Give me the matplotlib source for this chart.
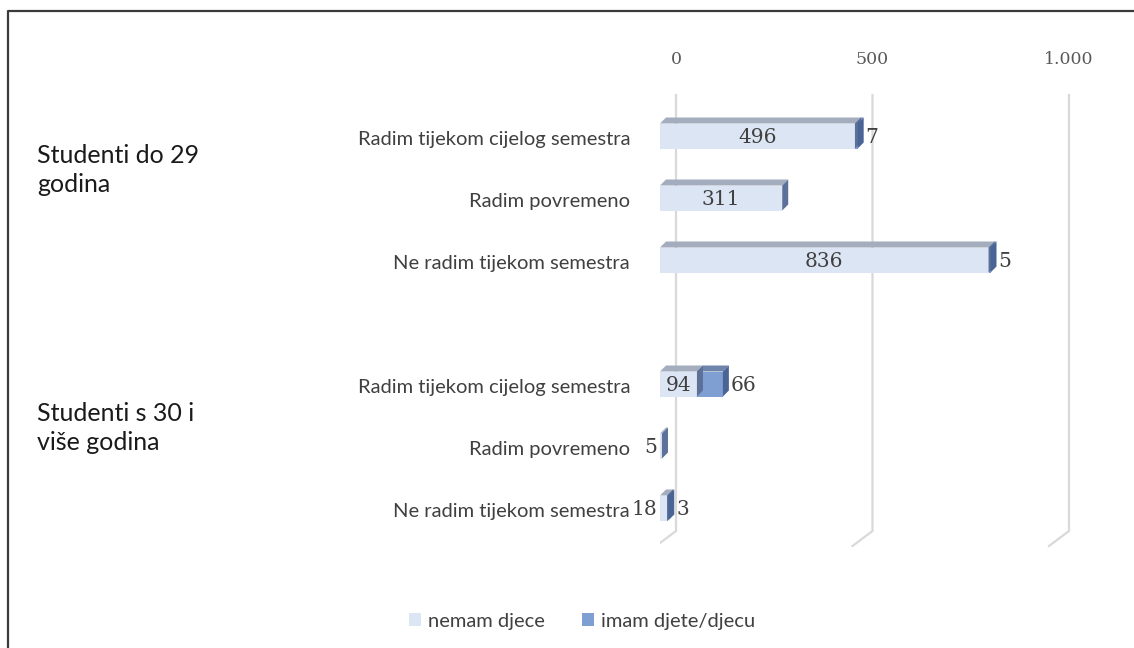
import matplotlib
matplotlib.use("Agg")
import matplotlib.pyplot as plt
from matplotlib.patches import Polygon, Rectangle, Patch
from matplotlib.lines import Line2D

# ---- data ----
groups = ["Studenti do 29\ngodina", "Studenti s 30 i\nviše godina"]
categories = ["Radim tijekom cijelog semestra", "Radim povremeno", "Ne radim tijekom semestra",
              "Radim tijekom cijelog semestra", "Radim povremeno", "Ne radim tijekom semestra"]
nemam_djece = [496, 311, 836, 94, 5, 18]
imam_djete = [7, 0, 5, 66, 0, 3]
series_names = ["nemam djece", "imam djete/djecu"]
tick_values = [0, 500, 1000]
tick_labels = ["0", "500", "1.000"]

rows = [0, 1, 2, 4, 5, 6]

W, H = 1134, 648
fig = plt.figure(figsize=(W / 100, H / 100), dpi=100)

# axes geometry in pixels
px_per_unit = 0.393
ax_left_px, ax_right_px = 660, 660 + 1150 * px_per_unit
row_px = 62.0
row0_px = 136.0
ax_top_px, ax_bot_px = 40, 600
ax = fig.add_axes([ax_left_px / W, 1 - ax_bot_px / H,
                   (ax_right_px - ax_left_px) / W, (ax_bot_px - ax_top_px) / H])
ax.set_xlim(0, 1150)
ax.set_ylim((ax_bot_px - row0_px) / row_px, (ax_top_px - row0_px) / row_px)
ax.axis("off")

def dxu(px):
    return px / px_per_unit

def dyu(px):
    return px / row_px

# gridlines on back wall with floor diagonal
back_dx = dxu(16)
g_top, g_bot = dyu(95 - row0_px), dyu(531 - row0_px)
for v in tick_values:
    gx = v + back_dx
    ax.plot([gx, gx, gx - dxu(20)], [g_top, g_bot, g_bot + dyu(15)],
            color="#d9d9d9", lw=1.6, solid_joinstyle="miter", zorder=1)

for v, lab in zip(tick_values, tick_labels):
    ax.text(v + back_dx, dyu(60 - row0_px), lab, ha="center", va="center",
            fontsize=12.5, color="#595959", family="DejaVu Serif")

# 3D bars
h = dyu(25)
ddx, ddy = dxu(6), dyu(6)
front_cols = ["#dbe5f3", "#7f9fd3"]
top_cols = ["#a3adbd", "#6f84ab"]
side_cols = ["#5c7199", "#4a6496"]

def box(x0, x1, y, k):
    yt, yb = y - h / 2, y + h / 2
    ax.add_patch(Rectangle((x0, yt), x1 - x0, h, facecolor=front_cols[k],
                           edgecolor="none", zorder=3))
    ax.add_patch(Polygon([(x0, yt), (x1, yt), (x1 + ddx, yt - ddy), (x0 + ddx, yt - ddy)],
                         closed=True, facecolor=top_cols[k], edgecolor="none", zorder=3))
    ax.add_patch(Polygon([(x1, yt), (x1 + ddx, yt - ddy), (x1 + ddx, yb - ddy), (x1, yb)],
                         closed=True, facecolor=side_cols[k], edgecolor="none", zorder=4))

lab_kw = dict(fontsize=14.5, color="#404040", family="DejaVu Serif", zorder=5, va="center")
for r, a, b, cat in zip(rows, nemam_djece, imam_djete, categories):
    box(0, a, r, 0)
    if b > 0:
        box(a, a + b, r, 1)
    # nemam label
    if a > 76:
        ax.text(a / 2, r + 0.03, str(a), ha="center", **lab_kw)
    else:
        ax.text(-dxu(3), r + 0.03, str(a), ha="right", **lab_kw)
    if b > 0:
        ax.text(a + b + ddx + dxu(2), r + 0.03, str(b), ha="left", **lab_kw)
    # category label
    ax.text(-dxu(30), r + 0.06, cat, ha="right", va="center",
            fontsize=14.5, color="#404040", family="Lato")

# group labels
fig.text(37 / W, 1 - 170 / H, groups[0], ha="left", va="center", fontsize=18,
         color="#1a1a1a", family="Lato", linespacing=1.3)
fig.text(37 / W, 1 - 428 / H, groups[1], ha="left", va="center", fontsize=18,
         color="#1a1a1a", family="Lato", linespacing=1.3)

# legend
handles = [Patch(facecolor=front_cols[0], edgecolor="none"),
           Patch(facecolor=front_cols[1], edgecolor="none")]
leg = fig.legend(handles, series_names, loc="center", bbox_to_anchor=(582 / W, 1 - 621 / H),
                 ncol=2, frameon=False, handlelength=0.6, handleheight=0.6,
                 handletextpad=0.35, columnspacing=1.8,
                 prop={"family": "Lato", "size": 14.5})
for t in leg.get_texts():
    t.set_color("#404040")

# frame lines
fig.add_artist(Line2D([8 / W, 8 / W, 1.0], [0, 1 - 11 / H, 1 - 11 / H],
                      transform=fig.transFigure, color="#3a3a3a", lw=1.6))

fig.savefig("out.png", dpi=100, facecolor="white")
